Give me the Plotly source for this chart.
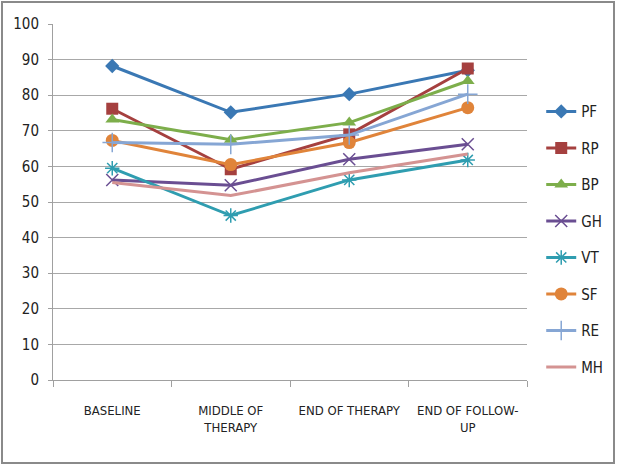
import plotly.graph_objects as go

categories = ["BASELINE", "MIDDLE OF<br>THERAPY", "END OF THERAPY", "END OF FOLLOW-<br>UP"]
series_names = ["PF", "RP", "BP", "GH", "VT", "SF", "RE", "MH"]
PF = [88.2, 75.2, 80.3, 87.0]
RP = [76.2, 59.2, 69.0, 87.5]
BP = [73.2, 67.5, 72.3, 84.0]
GH = [56.2, 54.7, 62.0, 66.2]
VT = [59.5, 46.2, 56.2, 61.8]
SF = [67.3, 60.5, 66.7, 76.5]
RE = [66.7, 66.2, 68.8, 80.3]
MH = [55.5, 51.8, 58.2, 63.5]
y_ticks = [0, 10, 20, 30, 40, 50, 60, 70, 80, 90, 100]

values = [PF, RP, BP, GH, VT, SF, RE, MH]
colors = ["#3A78B4", "#A5403F", "#7DAE4B", "#6A4E92", "#2F9DB0", "#E0843A", "#86A6D4", "#D49392"]
symbols = ["diamond", "square", "triangle-up", "x-thin-open", "asterisk-open", "circle", "cross-thin-open", None]
sizes = [11, 12, 12, 12, 12, 13, 14, 0]

font = "DejaVu Sans Condensed, Liberation Sans Narrow, sans-serif"
fig = go.Figure()
for i, (name, vals) in enumerate(zip(series_names, values)):
    marker = dict(color=colors[i], size=sizes[i])
    if symbols[i] is None:
        mode = "lines"
    else:
        mode = "lines+markers"
        marker["symbol"] = symbols[i]
        if symbols[i].endswith("-open"):
            marker["line"] = dict(color=colors[i], width=1.5)
    fig.add_trace(go.Scatter(x=categories, y=vals, name=name, mode=mode,
                             line=dict(color=colors[i], width=3), marker=marker,
                             legendgroup=name))

W, H = 619, 466
L, R, T, B = 53, 92, 24, 86
pw, ph = W - L - R, H - T - B
def px_x(x): return (x - L) / pw
def px_y(y): return (H - B - y) / ph

fig.update_layout(
    width=W, height=H,
    margin=dict(l=L, r=R, t=T, b=B, autoexpand=False),
    paper_bgcolor="white", plot_bgcolor="white",
    font=dict(family=font, size=14, color="#222"),
    showlegend=True,
    legend=dict(x=1.03, y=0.80, xanchor="left", yanchor="top",
                traceorder="grouped", tracegroupgap=14,
                font=dict(size=15, family=font), itemwidth=30),
    xaxis=dict(type="category", range=[-0.5, 3.5], showgrid=False, automargin=False,
               showline=True, linecolor="#A0A0A0", linewidth=1, tickangle=0,
               ticks="outside", tickson="boundaries", ticklen=6, tickcolor="#A0A0A0",
               ticklabelstandoff=18,
               tickfont=dict(size=13, family=font)),
    yaxis=dict(range=[0, 100], tickvals=y_ticks, showgrid=True, gridcolor="#A8A8A8",
               gridwidth=1, showline=True, linecolor="#A0A0A0", linewidth=1, automargin=False,
               ticks="outside", ticklen=4, tickcolor="#A0A0A0", zeroline=False,
               ticklabelstandoff=6,
               tickfont=dict(size=15, family=font)),
    shapes=[dict(type="rect", xref="paper", yref="paper",
                 x0=px_x(2), x1=px_x(614), y0=px_y(463), y1=px_y(2),
                 line=dict(color="#8A8A8A", width=2), fillcolor="rgba(0,0,0,0)", layer="below")],
)
fig.write_html("out.html", config={"displayModeBar": False},
               post_script="document.body.style.margin='0';")
